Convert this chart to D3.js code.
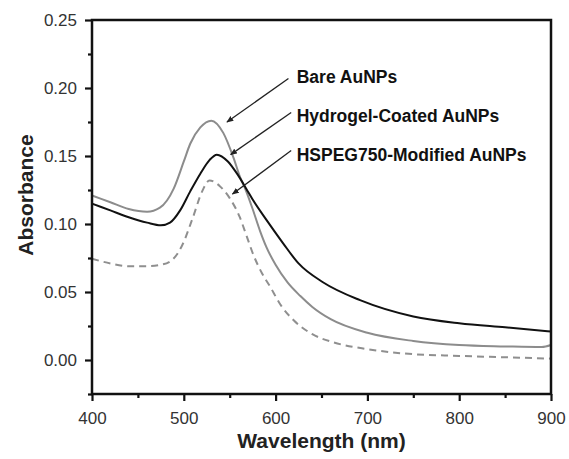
<!DOCTYPE html>
<html>
<head>
<meta charset="utf-8">
<script src="https://cdn.jsdelivr.net/npm/d3@7"></script>
<style>
  body { margin: 0; background: #fff; }
  svg { display: block; font-family: "Liberation Sans", Arial, sans-serif; }
</style>
</head>
<body>
<div id="chart"></div>
<script>
// spectra: [wavelength nm, absorbance]
const bare = [
  [400, 0.121], [420, 0.116], [440, 0.111], [460, 0.109], [474, 0.112],
  [489, 0.126], [500, 0.146], [507, 0.159], [518, 0.171], [530, 0.176],
  [543, 0.167], [554, 0.149], [561, 0.135], [568, 0.124], [575, 0.111],
  [583, 0.095], [590, 0.083], [600, 0.070], [613, 0.057], [627, 0.047],
  [640, 0.039], [660, 0.030], [700, 0.020], [750, 0.014], [800, 0.011],
  [850, 0.010], [890, 0.0095], [900, 0.011]
];
const hydrogel = [
  [400, 0.115], [420, 0.110], [440, 0.105], [460, 0.101], [475, 0.099],
  [485, 0.101], [496, 0.110], [507, 0.124], [518, 0.137], [528, 0.147],
  [536, 0.151], [548, 0.146], [558, 0.137], [568, 0.126], [575, 0.118],
  [590, 0.103], [608, 0.086], [625, 0.071], [652, 0.057], [692, 0.044],
  [750, 0.032], [800, 0.027], [850, 0.024], [900, 0.021]
];
const hspeg = [
  [400, 0.0745], [420, 0.071], [440, 0.069], [460, 0.069], [475, 0.070],
  [488, 0.074], [498, 0.084], [510, 0.105], [520, 0.124], [528, 0.132],
  [539, 0.128], [550, 0.119], [561, 0.105], [568, 0.092], [576, 0.077],
  [585, 0.064], [594, 0.054], [605, 0.041], [620, 0.029], [640, 0.019],
  [663, 0.013], [700, 0.008], [736, 0.005], [800, 0.003], [850, 0.002],
  [900, 0.001]
];

const x_ticks = [400, 500, 600, 700, 800, 900];
const x_minor = [450, 550, 650, 750, 850];
const y_ticks = [0.00, 0.05, 0.10, 0.15, 0.20, 0.25];
const y_minor = [-0.025, 0.025, 0.075, 0.125, 0.175, 0.225];

// label text, label anchor [nm, abs], arrow tail and tip [nm, abs]
const annotations = [
  {text: 'Bare AuNPs', at: [623, 0.2035], tail: [614, 0.207], tip: [547, 0.175]},
  {text: 'Hydrogel-Coated AuNPs', at: [623, 0.175], tail: [617, 0.182], tip: [551, 0.151]},
  {text: 'HSPEG750-Modified AuNPs', at: [623, 0.146], tail: [617, 0.154], tip: [553, 0.122]}
];

const series = [
  {name: 'HSPEG750-Modified AuNPs', data: hspeg, color: '#8f8f8f', dash: '7,5'},
  {name: 'Bare AuNPs', data: bare, color: '#8c8c8c', dash: null},
  {name: 'Hydrogel-Coated AuNPs', data: hydrogel, color: '#111', dash: null}
];

const width = 569, height = 459;
const margin = {top: 20, right: 18, bottom: 65, left: 92};

const svg = d3.select('#chart').append('svg')
  .attr('width', width)
  .attr('height', height);

const x = d3.scaleLinear().domain([400, 900]).range([margin.left, width - margin.right]);
const y = d3.scaleLinear().domain([-0.025, 0.25]).range([height - margin.bottom, margin.top]);

svg.append('defs').append('marker')
  .attr('id', 'head')
  .attr('viewBox', '0 0 10 10')
  .attr('refX', 9).attr('refY', 5)
  .attr('markerWidth', 7).attr('markerHeight', 7)
  .attr('markerUnits', 'userSpaceOnUse')
  .attr('orient', 'auto')
  .append('path')
  .attr('d', 'M0,1 L10,5 L0,9 Z')
  .attr('fill', '#222');

// curves
const line = d3.line()
  .x(d => x(d[0]))
  .y(d => y(d[1]))
  .curve(d3.curveMonotoneX);

svg.append('g')
  .selectAll('path')
  .data(series)
  .join('path')
  .attr('d', d => line(d.data))
  .attr('fill', 'none')
  .attr('stroke', d => d.color)
  .attr('stroke-width', 2)
  .attr('stroke-dasharray', d => d.dash);

// axes
const tick_fmt = d3.format('.2f');
const x_axis = svg.append('g')
  .attr('transform', `translate(0,${height - margin.bottom})`)
  .call(d3.axisBottom(x).tickValues(x_ticks).tickSize(7).tickPadding(11).tickFormat(d3.format('d')));
x_axis.append('g')
  .call(d3.axisBottom(x).tickValues(x_minor).tickSize(4).tickFormat(''));

const y_axis = svg.append('g')
  .attr('transform', `translate(${margin.left},0)`)
  .call(d3.axisLeft(y).tickValues(y_ticks).tickSize(7).tickPadding(8).tickFormat(tick_fmt));
y_axis.append('g')
  .call(d3.axisLeft(y).tickValues(y_minor).tickSize(4).tickFormat(''));

svg.selectAll('.domain').remove();
svg.selectAll('.tick line').attr('stroke', '#111').attr('stroke-width', 2.2);
svg.selectAll('.tick text')
  .attr('font-size', 17)
  .attr('fill', '#333');

// frame
svg.append('rect')
  .attr('x', x(400)).attr('y', y(0.25))
  .attr('width', x(900) - x(400))
  .attr('height', y(-0.025) - y(0.25))
  .attr('fill', 'none')
  .attr('stroke', '#111')
  .attr('stroke-width', 2.5);

// axis titles
svg.append('text')
  .attr('x', (x(400) + x(900)) / 2)
  .attr('y', height - 11)
  .attr('text-anchor', 'middle')
  .attr('font-size', 21)
  .attr('font-weight', 'bold')
  .attr('fill', '#222')
  .text('Wavelength (nm)');

svg.append('text')
  .attr('transform', 'translate(33,195) rotate(-90)')
  .attr('text-anchor', 'middle')
  .attr('font-size', 21)
  .attr('font-weight', 'bold')
  .attr('fill', '#222')
  .text('Absorbance');

// annotations
const ann = svg.append('g');
ann.selectAll('line')
  .data(annotations)
  .join('line')
  .attr('x1', d => x(d.tail[0])).attr('y1', d => y(d.tail[1]))
  .attr('x2', d => x(d.tip[0])).attr('y2', d => y(d.tip[1]))
  .attr('stroke', '#222')
  .attr('stroke-width', 1.3)
  .attr('marker-end', 'url(#head)');

ann.selectAll('text')
  .data(annotations)
  .join('text')
  .attr('x', d => x(d.at[0]))
  .attr('y', d => y(d.at[1]))
  .attr('font-size', 17.5)
  .attr('font-weight', 'bold')
  .attr('fill', '#111')
  .text(d => d.text);
</script>
</body>
</html>
